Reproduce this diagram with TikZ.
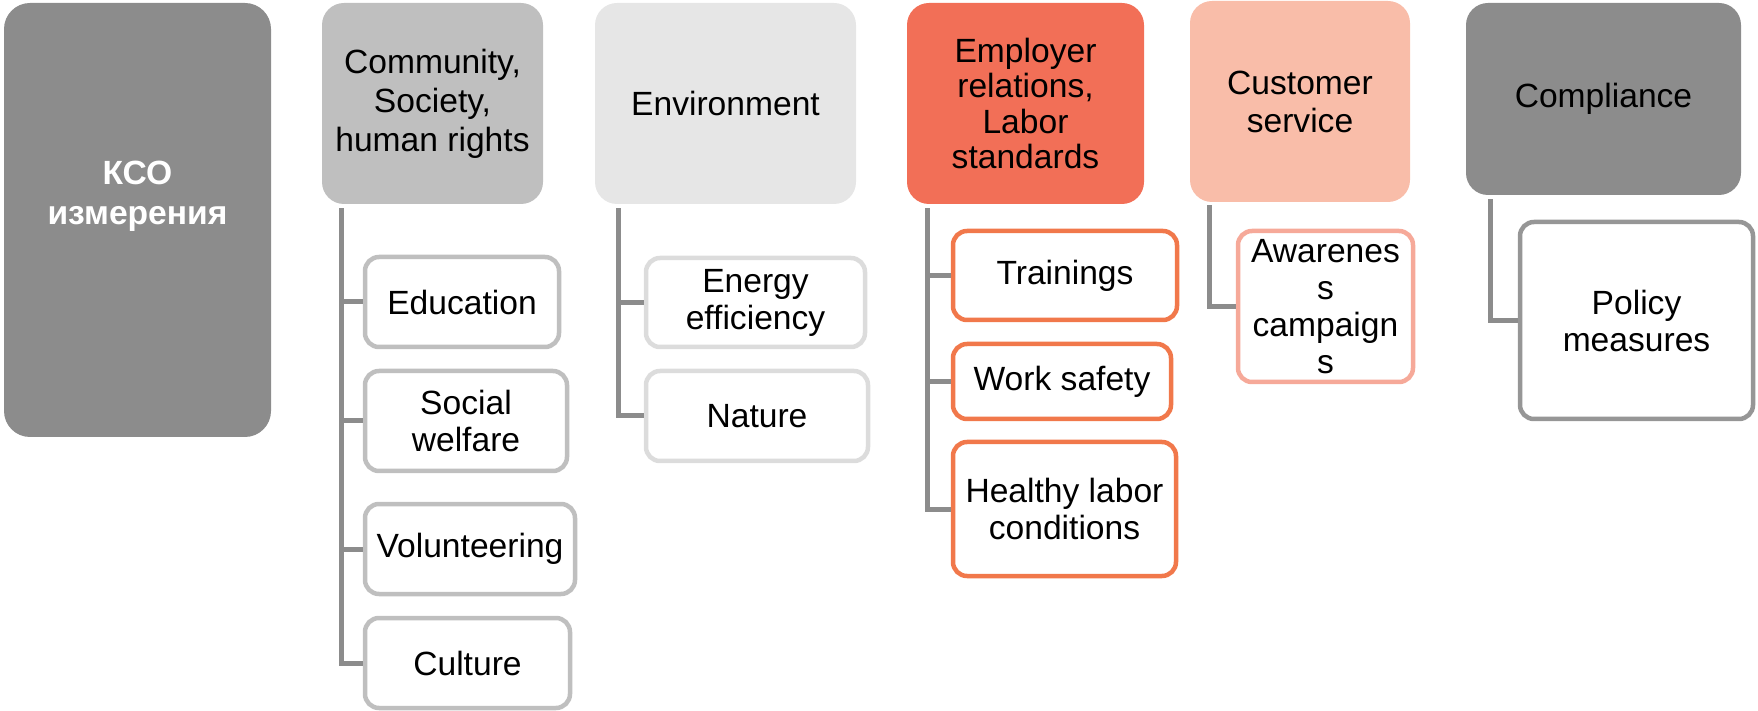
\documentclass[tikz,border=0pt]{standalone}
\usepackage{fontspec}
\setmainfont{Liberation Sans}
\usetikzlibrary{calc}
\definecolor{darkg}{HTML}{8C8C8C}
\definecolor{midg}{HTML}{BFBFBF}
\definecolor{lightg}{HTML}{E6E6E6}
\definecolor{envb}{HTML}{DCDCDC}
\definecolor{empf}{HTML}{F26F57}
\definecolor{empb}{HTML}{F1784B}
\definecolor{custf}{HTML}{F9BDA9}
\definecolor{custb}{HTML}{F6A999}
\definecolor{polb}{HTML}{969696}
\definecolor{conncol}{HTML}{8C8C8C}
\begin{document}
\begin{tikzpicture}[x=0.5pt,y=-0.5pt,
  txt/.style={font=\fontsize{16.8pt}{18.5pt}\selectfont, align=center, inner sep=0pt},
  parentbox/.style={txt, rounded corners=11pt, draw=none},
  childbox/.style={txt, rounded corners=7pt, line width=2.25pt, fill=white},
  kcolabel/.style={align=center, inner sep=0pt, text=white, font=\fontsize{16.8pt}{20pt}\selectfont\bfseries},
  connline/.style={draw=conncol, line width=2.5pt}]
\useasboundingbox (0,0) rectangle (1758,711);

% parents
\node[parentbox, fill=darkg, rounded corners=13pt, minimum width=133.5pt, minimum height=217pt] (kco) at (137.5,220) {};
\node[kcolabel] (kcot) at (137.5,196) {КСО\\измерения};
\node[parentbox, fill=midg, minimum width=110.5pt, minimum height=100.5pt, font=\fontsize{16.8pt}{19.5pt}\selectfont] (comm) at (432.5,103.5) {Community,\\Society,\\human rights};
\node[parentbox, fill=lightg, minimum width=130.5pt, minimum height=100.5pt] (env) at (725.5,103.5) {Environment};
\node[parentbox, fill=empf, minimum width=118.5pt, minimum height=100.5pt, font=\fontsize{16.8pt}{17.8pt}\selectfont] (emp) at (1025.5,103.5) {Employer\\relations,\\Labor\\standards};
\node[parentbox, fill=custf, minimum width=110pt, minimum height=100.5pt, font=\fontsize{16.8pt}{19pt}\selectfont] (cust) at (1300,101.5) {Customer\\service};
\node[parentbox, fill=darkg, minimum width=137.5pt, minimum height=96pt] (comp) at (1603.5,99) {Compliance};

% children
\node[childbox, draw=midg, minimum width=97pt, minimum height=45pt] (edu) at (462,302) {Education};
\node[childbox, draw=midg, minimum width=101pt, minimum height=50pt] (soc) at (466,421) {Social\\welfare};
\node[childbox, draw=midg, minimum width=105pt, minimum height=45pt] (vol) at (470,549) {Volunteering};
\node[childbox, draw=midg, minimum width=102.5pt, minimum height=45pt] (cult) at (467.5,663) {Culture};

\node[childbox, draw=envb, minimum width=109.5pt, minimum height=44.5pt] (ener) at (755.5,302.5) {Energy\\efficiency};
\node[childbox, draw=envb, minimum width=111pt, minimum height=45pt] (nat) at (757,416) {Nature};

\node[childbox, draw=empb, minimum width=112pt, minimum height=44.5pt] (trn) at (1065,275.5) {Trainings};
\node[childbox, draw=empb, minimum width=109pt, minimum height=37.5pt] (wrk) at (1062,381.5) {Work safety};
\node[childbox, draw=empb, minimum width=111.5pt, minimum height=67pt] (hlt) at (1064.5,509) {Healthy labor\\conditions};

\node[childbox, draw=custb, minimum width=87.5pt, minimum height=75.5pt] (awr) at (1325.5,306.5) {Awarenes\\s\\campaign\\s};

\node[childbox, draw=polb, minimum width=116.5pt, minimum height=98.5pt] (pol) at (1636.5,320.5) {Policy\\measures};

% trunk tops
\coordinate (tcomm) at ($(comm.south west)+(20,4)$);
\coordinate (tenv) at ($(env.south west)+(24,4)$);
\coordinate (temp) at ($(emp.south west)+(21,4)$);
\coordinate (tcust) at ($(cust.south west)+(20,3)$);
\coordinate (tcomp) at ($(comp.south west)+(25,4)$);

% connectors
\draw[connline] (tcomm) |- (cult.west);
\draw[connline] (tcomm) |- (edu.west);
\draw[connline] (tcomm) |- (soc.west);
\draw[connline] (tcomm) |- (vol.west);

\draw[connline] (tenv) |- (nat.west);
\draw[connline] (tenv) |- (ener.west);

\draw[connline] (temp) |- (hlt.west);
\draw[connline] (temp) |- (trn.west);
\draw[connline] (temp) |- (wrk.west);

\draw[connline] (tcust) |- (awr.west);
\draw[connline] (tcomp) |- (pol.west);
\end{tikzpicture}
\end{document}
